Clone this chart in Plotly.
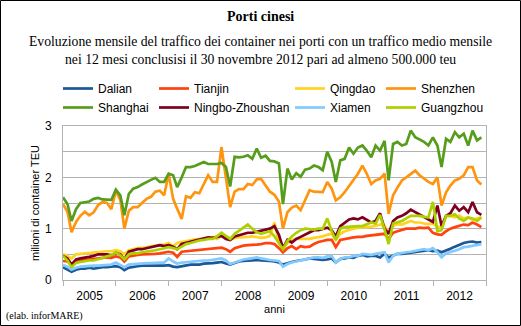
import pandas as pd
import plotly.graph_objects as go

# Months: Dec 2004 .. Nov 2012 (month-end dates)
months = list(pd.date_range("2004-12-01", periods=96, freq="MS") + pd.offsets.MonthEnd(0))

dalian = [0.25,0.21,0.16,0.20,0.22,0.22,0.24,0.22,0.24,0.25,0.25,0.26,
          0.27,0.25,0.19,0.24,0.26,0.27,0.28,0.28,0.28,0.27,0.28,0.28,
          0.29,0.26,0.25,0.27,0.28,0.30,0.30,0.30,0.32,0.32,0.33,0.34,
          0.35,0.32,0.30,0.33,0.36,0.37,0.38,0.39,0.39,0.38,0.38,0.37,
          0.36,0.34,0.30,0.33,0.35,0.37,0.38,0.40,0.42,0.41,0.39,0.39,
          0.40,0.42,0.34,0.41,0.42,0.44,0.43,0.47,0.49,0.46,0.47,0.47,
          0.44,0.51,0.44,0.47,0.51,0.51,0.52,0.54,0.55,0.56,0.57,0.58,
          0.56,0.57,0.54,0.57,0.61,0.65,0.69,0.72,0.74,0.75,0.73,0.74]
tianjin = [0.37,0.36,0.30,0.37,0.38,0.39,0.40,0.41,0.42,0.43,0.44,0.43,
           0.46,0.44,0.36,0.46,0.48,0.49,0.50,0.50,0.50,0.51,0.52,0.53,
           0.55,0.53,0.45,0.55,0.56,0.57,0.58,0.59,0.60,0.60,0.61,0.62,
           0.63,0.60,0.55,0.62,0.65,0.67,0.68,0.68,0.69,0.70,0.72,0.72,
           0.70,0.62,0.54,0.62,0.66,0.60,0.66,0.64,0.65,0.70,0.74,0.76,
           0.78,0.78,0.64,0.78,0.80,0.82,0.83,0.84,0.84,0.86,0.87,0.88,
           0.90,0.90,0.80,0.92,0.95,0.98,1.00,1.00,1.00,1.02,1.01,1.02,
           0.92,0.89,0.88,0.95,1.00,1.03,1.05,1.08,1.07,1.12,1.08,1.03]
qingdao = [0.50,0.47,0.42,0.50,0.51,0.52,0.53,0.54,0.55,0.55,0.56,0.56,
           0.58,0.56,0.50,0.58,0.60,0.62,0.62,0.64,0.66,0.67,0.68,0.69,
           0.72,0.65,0.72,0.74,0.75,0.77,0.79,0.80,0.80,0.80,0.84,0.80,
           0.86,0.85,0.78,0.82,0.83,0.83,0.84,0.85,0.84,0.82,0.83,0.86,
           1.12,0.72,0.62,0.72,0.78,0.80,0.80,0.80,0.80,0.82,0.83,0.85,
           0.88,0.90,0.78,0.90,0.95,0.98,1.00,1.02,1.02,1.03,1.04,1.06,
           1.08,1.06,0.90,1.05,1.09,1.08,1.12,1.15,1.12,1.12,1.10,1.09,
           1.10,1.04,1.02,1.25,1.25,1.22,1.25,1.20,1.22,1.17,1.20,1.22]
shenzhen = [1.48,1.33,0.93,1.13,1.25,1.33,1.26,1.32,1.46,1.52,1.50,1.38,
            1.73,1.56,1.00,1.35,1.42,1.42,1.50,1.58,1.62,1.72,1.74,1.65,
            2.07,1.58,1.39,1.19,1.63,1.60,1.71,1.69,1.87,2.04,1.91,1.91,
            2.59,2.00,1.42,1.72,1.77,1.77,1.87,1.85,1.96,1.97,1.84,1.72,
            1.66,1.53,1.00,1.32,1.41,1.45,1.36,1.54,1.75,1.72,1.72,1.71,
            1.91,1.78,1.55,1.61,1.71,1.84,1.94,2.07,2.23,2.07,1.87,1.94,
            1.97,2.07,1.29,1.65,1.80,1.94,2.00,2.07,2.13,2.04,1.97,1.91,
            1.87,2.00,1.45,1.71,1.84,1.94,1.97,2.04,2.20,2.20,1.94,1.86]
shanghai = [1.61,1.48,1.15,1.38,1.50,1.52,1.53,1.58,1.60,1.57,1.56,1.56,
            1.76,1.65,1.26,1.68,1.78,1.81,1.86,1.91,1.95,1.99,1.91,1.91,
            2.07,2.04,1.81,2.00,2.20,2.20,2.22,2.26,2.30,2.26,2.26,2.26,
            2.28,2.20,1.82,2.40,2.39,2.40,2.43,2.36,2.56,2.38,2.42,2.32,
            2.31,2.27,1.48,2.17,1.96,2.08,2.01,2.15,2.17,2.23,2.20,2.14,
            2.50,2.30,1.91,2.33,2.36,2.58,2.46,2.58,2.62,2.52,2.39,2.62,
            2.52,2.71,1.94,2.65,2.69,2.62,2.65,2.91,2.78,2.73,2.69,2.62,
            2.78,2.62,2.20,2.75,2.69,2.88,2.78,2.85,2.62,2.91,2.72,2.78]
ningbo = [0.47,0.42,0.30,0.40,0.42,0.43,0.45,0.47,0.50,0.50,0.50,0.48,
          0.53,0.50,0.40,0.55,0.57,0.60,0.60,0.62,0.63,0.66,0.68,0.66,
          0.68,0.65,0.60,0.70,0.72,0.74,0.77,0.79,0.80,0.83,0.82,0.84,
          0.86,0.80,0.78,0.85,0.87,0.90,0.92,0.92,0.94,0.95,0.97,1.00,
          1.05,0.88,0.62,0.78,0.73,0.80,0.84,0.88,0.93,0.97,0.97,1.00,
          1.02,0.97,0.85,1.05,1.12,1.18,1.20,1.18,1.22,1.17,1.12,1.15,
          1.30,1.00,0.90,1.15,1.22,1.25,1.30,1.37,1.32,1.28,1.22,1.18,
          1.13,1.45,1.05,1.25,1.30,1.45,1.35,1.42,1.32,1.52,1.32,1.27]
xiamen = [0.29,0.26,0.20,0.24,0.26,0.27,0.27,0.28,0.28,0.29,0.30,0.30,
          0.34,0.30,0.25,0.30,0.31,0.32,0.33,0.33,0.33,0.34,0.34,0.34,
          0.42,0.36,0.32,0.34,0.35,0.36,0.36,0.37,0.38,0.38,0.39,0.40,
          0.42,0.38,0.31,0.34,0.37,0.40,0.41,0.42,0.44,0.42,0.40,0.39,
          0.38,0.37,0.26,0.31,0.34,0.36,0.38,0.41,0.43,0.44,0.44,0.43,
          0.46,0.47,0.34,0.41,0.44,0.44,0.47,0.47,0.51,0.50,0.49,0.51,
          0.52,0.54,0.34,0.47,0.51,0.53,0.54,0.55,0.57,0.58,0.60,0.58,
          0.62,0.54,0.44,0.52,0.54,0.57,0.60,0.64,0.65,0.67,0.68,0.70]
guangzhou = [0.47,0.38,0.25,0.33,0.35,0.37,0.38,0.38,0.40,0.43,0.46,0.48,
             0.54,0.48,0.40,0.50,0.52,0.52,0.54,0.55,0.56,0.58,0.60,0.62,
             0.64,0.62,0.60,0.65,0.70,0.72,0.75,0.77,0.78,0.80,0.80,0.85,
             0.92,0.85,0.80,0.90,0.96,1.02,1.08,1.00,0.93,0.90,0.92,0.95,
             0.85,0.72,0.60,0.76,0.85,0.92,0.97,1.00,0.99,0.98,1.00,1.00,
             1.20,0.95,0.78,1.00,1.03,1.04,1.05,1.05,1.05,1.08,1.12,1.10,
             1.27,0.98,0.70,1.10,1.12,1.15,1.20,1.25,1.25,1.25,1.23,1.22,
             1.52,0.95,0.97,1.25,1.25,1.28,1.20,1.15,1.22,1.20,1.15,1.22]

names = ["Dalian", "Tianjin", "Qingdao", "Shenzhen",
         "Shanghai", "Ningbo-Zhoushan", "Xiamen", "Guangzhou"]
series = [dalian, tianjin, qingdao, shenzhen, shanghai, ningbo, xiamen, guangzhou]
colors = ["#1c5896", "#ff420e", "#ffd320", "#ff950e",
          "#579d1c", "#7e0021", "#83caff", "#aecf00"]
legend_ids = ["legend", "legend2", "legend3", "legend4",
              "legend", "legend2", "legend3", "legend4"]

# plot area geometry (px)
L, R, T, B = 63, 486, 126, 280
W, H = R - L, B - T
def px_x(p): return (p - L) / W
def px_y(p): return (B - p) / H

SANS = "Liberation Sans, Arial, sans-serif"
SERIF = "Liberation Serif, Times New Roman, serif"

fig = go.Figure()
for n, s, c, lg in zip(names, series, colors, legend_ids):
    fig.add_trace(go.Scatter(x=months, y=s, name=n, mode="lines",
                             line=dict(color=c, width=2.7),
                             legend=lg))

legend_cols = [58, 154, 290, 381]
legend_common = dict(orientation="v", xanchor="left", yanchor="top",
                     bgcolor="rgba(0,0,0,0)", borderwidth=0,
                     font=dict(family=SANS, size=12, color="#000"),
                     tracegroupgap=0, itemwidth=30)
lay_leg = {}
for i, lid in enumerate(["legend", "legend2", "legend3", "legend4"]):
    lay_leg[lid] = dict(x=px_x(legend_cols[i]), y=px_y(74), **legend_common)

grid = "#b3b3b3"
fig.update_layout(
    width=521, height=326,
    margin=dict(l=L, r=521 - R, t=T, b=326 - B),
    paper_bgcolor="white", plot_bgcolor="white",
    showlegend=True,
    **lay_leg,
    xaxis=dict(type="date", range=["2004-12-31", "2013-01-01"],
               tick0="2005-01-01", dtick="M12", tickformat="%Y",
               ticklabelmode="period", ticks="outside", ticklen=5,
               tickcolor=grid, showgrid=False, showline=True,
               linecolor=grid, linewidth=1, mirror=True,
               tickfont=dict(family=SANS, size=12, color="#000"),
               title=dict(text="anni", font=dict(family=SANS, size=11, color="#000"),
                          standoff=2),
               automargin=False),
    yaxis=dict(range=[0, 3], tickvals=[0, 0.5, 1, 1.5, 2, 2.5, 3],
               ticktext=["0", "", "1", "", "2", "", "3"],
               showgrid=True, gridcolor=grid, gridwidth=1,
               showline=True, linecolor=grid, linewidth=1, mirror=True,
               zeroline=False, ticks="", ticklabelstandoff=8,
               tickfont=dict(family=SANS, size=12, color="#000"),
               automargin=False),
)
fig.add_annotation(text="milioni di container TEU", xref="paper", yref="paper",
                   x=px_x(35), y=px_y(203), xanchor="center", yanchor="middle",
                   textangle=-90, showarrow=False,
                   font=dict(family=SANS, size=11, color="#000"))
fig.add_annotation(text="<b>Porti cinesi</b>", xref="paper", yref="paper",
                   x=px_x(260.5), y=px_y(17), xanchor="center", yanchor="middle",
                   showarrow=False, font=dict(family=SERIF, size=14, color="#000"))
fig.add_annotation(text="Evoluzione mensile del traffico dei container nei porti con un traffico medio mensile<br>"
                        "nei 12 mesi conclusisi il 30 novembre 2012 pari ad almeno 500.000 teu",
                   xref="paper", yref="paper", x=px_x(260.5), y=px_y(50.5),
                   xanchor="center", yanchor="middle", showarrow=False,
                   font=dict(family=SERIF, size=13.7, color="#000"))
fig.add_annotation(text="(elab. inforMARE)", xref="paper", yref="paper",
                   x=px_x(4), y=px_y(316), xanchor="left", yanchor="middle",
                   showarrow=False, font=dict(family=SERIF, size=10, color="#000"))
# outer border
fig.add_shape(type="rect", xref="paper", yref="paper",
              x0=px_x(0.5), x1=px_x(520.5), y0=px_y(325.5), y1=px_y(0.5),
              line=dict(color="#000", width=1), fillcolor="rgba(0,0,0,0)", layer="below")

fig.write_html("out.html")
